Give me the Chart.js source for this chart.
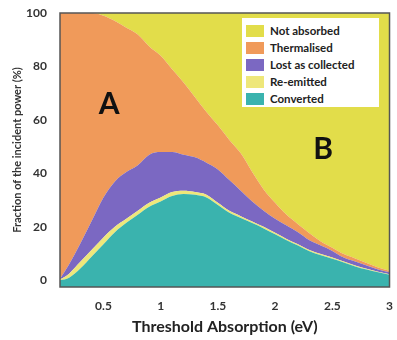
<!DOCTYPE html>
<html>
<head>
<meta charset="utf-8">
<script src="https://cdn.jsdelivr.net/npm/chart.js@4"></script>
<style>
    body { margin: 0; background: #fff; }
    #wrap { position: relative; width: 397px; height: 340px; }
    #legend {
        position: absolute; left: 242px; top: 18px; width: 137px; height: 89px;
        background: #fff; box-sizing: border-box; padding: 4px 0 0 4px;
        font: bold 11.5px Lato, sans-serif; color: #222;
    }
    #legend div { height: 17px; display: flex; align-items: center; }
    #legend span { display: inline-block; width: 18px; height: 12px; margin-right: 6px; }
</style>
</head>
<body>
<div id="wrap">
    <canvas id="canvas" width="397" height="340"></canvas>
    <div id="legend"></div>
</div>
<script>
"use strict"

let energy = [0.12, 0.2, 0.3, 0.4, 0.5, 0.6, 0.7, 0.8, 0.9, 1.0,
    1.1, 1.2, 1.3, 1.4, 1.5, 1.6, 1.7, 1.8, 1.9, 2.0,
    2.1, 2.2, 2.3, 2.4, 2.5, 2.6, 2.7, 2.8, 2.9, 3.0];

let converted = [0, 1, 4.5, 9, 13.5, 18, 21.5, 24.5, 27.5, 29.5,
    31.5, 32.3, 32, 31, 28.2, 25.3, 23.3, 21.4, 19.4, 17.2,
    15, 13, 10.9, 9.4, 8.1, 6.7, 5.2, 4, 3, 2.1];
let reEmitted = [0.3, 1.5, 2.5, 2.5, 2.5, 2, 1.5, 1.5, 1.5, 1.5,
    1.5, 1.2, 1, 1, 0.8, 0.7, 0.7, 0.6, 0.6, 0.6,
    0.5, 0.5, 0.4, 0.4, 0.4, 0.3, 0.3, 0.3, 0.2, 0.2];
let lost = [0.2, 3.5, 7, 11, 15, 17, 17.5, 17, 18, 17,
    15, 13.5, 13, 12, 12.5, 11.5, 9.5, 7.5, 6, 5.2,
    5, 4.5, 3.7, 3.2, 2.5, 1.5, 1.5, 1.2, 0.8, 0.7];
let thermalised = [99.5, 94, 86, 77.5, 68, 60, 54, 49, 40.5, 36,
    31, 27, 22.5, 19, 16.5, 15, 14, 11, 8, 6,
    4, 3, 2.6, 1.5, 1.2, 1.3, 1.2, 1, 0.8, 0.6];
let notAbsorbed = [0, 0, 0, 0, 1, 3, 5.5, 8, 12.5, 16,
    21, 26, 31.5, 37, 42, 47.5, 52.5, 59.5, 66, 71,
    75.5, 79, 82.4, 85.5, 87.8, 90.2, 91.8, 93.5, 95.2, 96.4];

let xTicks = [0.5, 1, 1.5, 2, 2.5, 3];
let yTicks = [0, 20, 40, 60, 80, 100];

/* Colors */
let teal = "#3ab3ae";
let paleYellow = "#eee77a";
let purple = "#7b68c2";
let orange = "#f09a5a";
let yellow = "#e2dd4a";
let axisGrey = "#555";

let series = [
    { label: "Converted", values: converted, color: teal },
    { label: "Re-emitted", values: reEmitted, color: paleYellow },
    { label: "Lost as collected", values: lost, color: purple },
    { label: "Thermalised", values: thermalised, color: orange },
    { label: "Not absorbed", values: notAbsorbed, color: yellow },
];

// legend, top entry first
let legend = document.getElementById("legend");
series.slice().reverse().forEach(s => {
    let row = document.createElement("div");
    let sw = document.createElement("span");
    sw.style.background = s.color;
    row.appendChild(sw);
    row.appendChild(document.createTextNode(s.label));
    legend.appendChild(row);
});

const frame = {
    id: "frame",
    afterDatasetsDraw(chart) {
        let ctx = chart.ctx;
        let a = chart.chartArea;
        let x = chart.scales.x;
        let y = chart.scales.y;
        ctx.save();
        ctx.strokeStyle = axisGrey;
        ctx.lineWidth = 1.5;
        ctx.strokeRect(a.left, a.top, a.right - a.left, a.bottom - a.top);
        ctx.fillStyle = "#111";
        ctx.font = "bold 30px Lato, sans-serif";
        ctx.textAlign = "center";
        ctx.textBaseline = "middle";
        ctx.fillText("A", x.getPixelForValue(0.55), y.getPixelForValue(66));
        ctx.fillText("B", x.getPixelForValue(2.42), y.getPixelForValue(49));
        ctx.restore();
    }
};

const chart = new Chart(document.getElementById("canvas"), {
    type: "line",
    data: {
        datasets: series.map((s, i) => ({
            label: s.label,
            data: energy.map((e, j) => ({ x: e, y: s.values[j] })),
            backgroundColor: s.color,
            borderWidth: 0,
            pointRadius: 0,
            cubicInterpolationMode: "monotone",
            fill: i === 0 ? "start" : "-1",
        }))
    },
    options: {
        responsive: false,
        animation: false,
        layout: { padding: { top: 13, right: 7, left: 0, bottom: 0 } },
        scales: {
            x: {
                type: "linear",
                min: 0.12,
                max: 3,
                afterBuildTicks: scale => { scale.ticks = xTicks.map(v => ({ value: v })); },
                afterFit: scale => { scale.height = 53; },
                grid: { display: false },
                border: { display: false },
                ticks: {
                    color: "#333",
                    padding: 4,
                    callback: v => String(v),
                    font: { family: "Lato", size: 12, weight: "bold" },
                },
                title: {
                    display: true,
                    text: "Threshold Absorption (eV)",
                    color: "#222",
                    padding: { top: 6 },
                    font: { family: "Lato", size: 16, weight: "bold" },
                },
            },
            y: {
                stacked: true,
                min: -2.5,
                max: 100,
                afterBuildTicks: scale => { scale.ticks = yTicks.map(v => ({ value: v })); },
                afterFit: scale => { scale.width = 60; },
                grid: { display: false },
                border: { display: false },
                ticks: {
                    color: "#333",
                    padding: 5,
                    font: { family: "Lato", size: 12, weight: "bold" },
                },
                title: {
                    display: true,
                    text: "Fraction of the incident power (%)",
                    color: "#333",
                    padding: { top: 11, bottom: 4 },
                    font: { family: "Lato", size: 11, weight: "bold" },
                },
            },
        },
        plugins: {
            legend: { display: false },
            tooltip: { enabled: false },
        },
    },
    plugins: [frame],
});
</script>
</body>
</html>
